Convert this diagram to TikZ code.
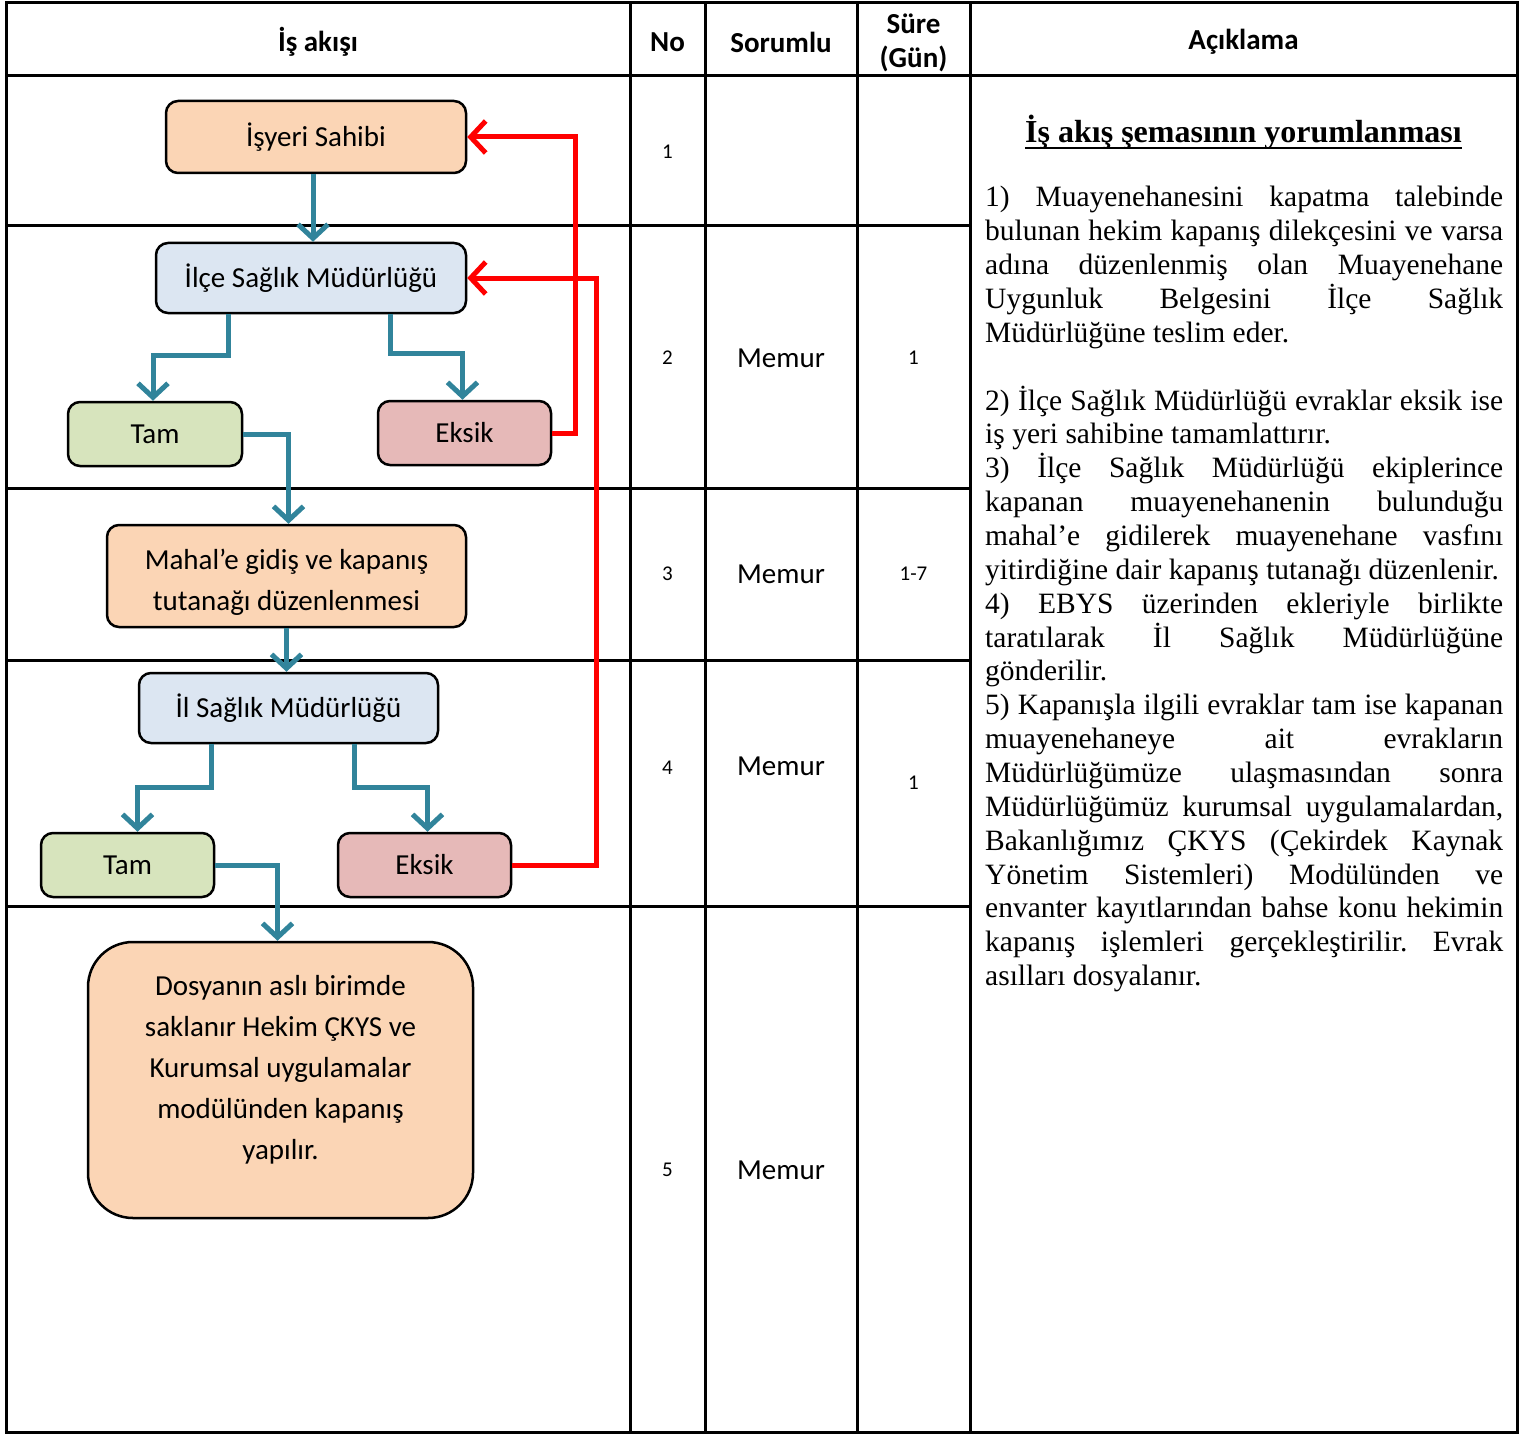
\documentclass[tikz,border=0pt]{standalone}
\usepackage{fontspec}
\setmainfont{Liberation Serif}
\newfontfamily\carl{Carlito}
\newfontfamily\tnr{Liberation Serif}
\usetikzlibrary{arrows.meta,calc}
\definecolor{cpeach}{HTML}{FBD5B5}
\definecolor{cblue}{HTML}{DCE6F2}
\definecolor{cgreen}{HTML}{D7E4BD}
\definecolor{cpink}{HTML}{E6B9B8}
\definecolor{cteal}{HTML}{31849B}
\frenchspacing
\newcommand\jline[3]{\node[jl] (#1) at (985,#2) {\makebox[518pt][s]{#3}};}
\newcommand\lline[3]{\node[jl] (#1) at (985,#2) {#3};}
\begin{document}
\begin{tikzpicture}[x=1pt,y=-1pt,
  tblline/.style={line width=3pt,line cap=rect},
  flowbox/.style={draw=black,line width=2.5pt,rounded corners=12pt,font=\carl\fontsize{29}{41}\selectfont,align=center,inner sep=0pt},
  flowtxt/.style={font=\carl\fontsize{29}{41}\selectfont,align=center,inner sep=0pt},
  tl/.style={draw=cteal,line width=5pt,-{Straight Barb[length=14pt,width=30pt]}},
  rl/.style={draw=red,line width=5pt,-{Straight Barb[length=15pt,width=32pt]}},
  hdr/.style={font=\carl\bfseries\fontsize{29}{34}\selectfont,align=center,inner sep=0pt},
  celltxt/.style={font=\carl\fontsize{29}{34}\selectfont,inner sep=0pt},
  numtxt/.style={font=\carl\fontsize{21}{25}\selectfont,inner sep=0pt},
  jl/.style={font=\tnr\fontsize{29.5}{34}\selectfont,inner sep=0pt,anchor=base west},
]
\useasboundingbox (0,0) rectangle (1526,1434);
% table
\draw[tblline] (6,3) rectangle (1517,1432);
\foreach \x in {630,705,857,970} \draw[tblline] (\x,3) -- (\x,1432);
\draw[tblline] (6,76) -- (1517,76);
\foreach \y in {226,488,660,906} \draw[tblline] (6,\y) -- (970,\y);
% header
\node[hdr] (h1) at (318,42) {İş akışı};
\node[hdr] (h2) at (667.5,42) {No};
\node[hdr] (h3) at (781,42) {Sorumlu};
\node[hdr] (h4) at (913.5,42.5) {Süre\\(Gün)};
\node[hdr] (h5) at (1243.5,42) {Açıklama};
% cells
\node[numtxt] (n1) at (667.5,152) {1};
\node[numtxt] (n2) at (667.5,358) {2};
\node[numtxt] (n3) at (667.5,574) {3};
\node[numtxt] (n4) at (667.5,768) {4};
\node[numtxt] (n5) at (667.5,1170) {5};
\node[celltxt] (m2) at (781,358) {Memur};
\node[celltxt] (m3) at (781,574) {Memur};
\node[celltxt] (m4) at (781,766) {Memur};
\node[celltxt] (m5) at (781,1170) {Memur};
\node[numtxt] (s2) at (913.5,358) {1};
\node[numtxt] (s3) at (913.5,574) {1-7};
\node[numtxt] (s4) at (913.5,783) {1};
% flow nodes
\node[flowbox,fill=cpeach,minimum width=300pt,minimum height=72pt] (isyeri) at (316,137) {\raisebox{3pt}{İşyeri Sahibi}};
\node[flowbox,fill=cblue,minimum width=310pt,minimum height=70pt] (ilce) at (311,278) {\raisebox{3pt}{İlçe Sağlık Müdürlüğü}};
\node[flowbox,fill=cgreen,minimum width=174pt,minimum height=64pt] (tam1) at (155,434) {Tam};
\node[flowbox,fill=cpink,minimum width=173pt,minimum height=64pt] (eksik1) at (464.5,433) {Eksik};
\node[flowbox,fill=cpeach,minimum width=359pt,minimum height=102pt] (mahal) at (286.5,576) {};
\node[flowtxt] (mahaltxt) at (286.5,582) {Mahal’e gidiş ve kapanış\\tutanağı düzenlenmesi};
\node[flowbox,fill=cblue,minimum width=299pt,minimum height=70pt] (il) at (288.5,708) {\raisebox{3pt}{İl Sağlık Müdürlüğü}};
\node[flowbox,fill=cgreen,minimum width=173pt,minimum height=64pt] (tam2) at (127.5,865) {Tam};
\node[flowbox,fill=cpink,minimum width=173pt,minimum height=64pt] (eksik2) at (424.5,865) {Eksik};
\node[flowbox,fill=cpeach,rounded corners=45pt,minimum width=385pt,minimum height=276pt] (dosya) at (280.5,1080) {};
\node[flowtxt] (dosyatxt) at (280.5,1070) {Dosyanın aslı birimde\\saklanır Hekim ÇKYS ve\\Kurumsal uygulamalar\\modülünden kapanış\\yapılır.};
% teal arrows
\draw[tl] ([xshift=-3pt]isyeri.south) -- ([xshift=-3pt]isyeri.south |- ilce.north);
\draw[tl] ([xshift=-83pt]ilce.south) -- ++(0,41) -| ([xshift=-2pt]tam1.north);
\draw[tl] ([xshift=79pt]ilce.south) -- ++(0,39) -| ([xshift=-2pt]eksik1.north);
\draw[tl] (tam1.east) -| ([xshift=2pt]mahal.north);
\draw[tl] (mahal.south) -- (mahal.south |- il.north);
\draw[tl] ([xshift=-77pt]il.south) -- ++(0,43) -| ([xshift=10pt]tam2.north);
\draw[tl] ([xshift=66pt]il.south) -- ++(0,43) -| ([xshift=3pt]eksik2.north);
\draw[tl] (tam2.east) -| ([xshift=-3pt]dosya.north);
% red arrows
\draw[rl] (eksik1.east) -- ++(23,0) |- (isyeri.east);
\draw[rl] (eksik2.east) -- ++(84,0) |- (ilce.east);
% description
\node[font=\tnr\bfseries\fontsize{32}{38}\selectfont,inner sep=0pt,anchor=base] (title) at (1243.5,143) {İş akış şemasının yorumlanması};
\draw[line width=2pt] ([yshift=-5pt]title.base west) -- ([yshift=-5pt]title.base east);
\jline{l1}{207}{1) Muayenehanesini kapatma talebinde}
\jline{l2}{240.85}{bulunan hekim kapanış dilekçesini ve varsa}
\jline{l3}{274.7}{adına düzenlenmiş olan Muayenehane}
\jline{l4}{308.55}{Uygunluk Belgesini İlçe Sağlık}
\lline{l5}{342.4}{Müdürlüğüne teslim eder.}
\jline{l7}{410.1}{2) İlçe Sağlık Müdürlüğü evraklar eksik ise}
\lline{l8}{443.95}{iş yeri sahibine tamamlattırır.}
\jline{l9}{477.8}{3) İlçe Sağlık Müdürlüğü ekiplerince}
\jline{l10}{511.65}{kapanan muayenehanenin bulunduğu}
\jline{l11}{545.5}{mahal’e gidilerek muayenehane vasfını}
\lline{l12}{579.35}{yitirdiğine dair kapanış tutanağı düzenlenir.}
\jline{l13}{613.2}{4) EBYS üzerinden ekleriyle birlikte}
\jline{l14}{647.05}{taratılarak İl Sağlık Müdürlüğüne}
\lline{l15}{680.9}{gönderilir.}
\jline{l16}{714.75}{5) Kapanışla ilgili evraklar tam ise kapanan}
\jline{l17}{748.6}{muayenehaneye ait evrakların}
\jline{l18}{782.45}{Müdürlüğümüze ulaşmasından sonra}
\jline{l19}{816.3}{Müdürlüğümüz kurumsal uygulamalardan,}
\jline{l20}{850.15}{Bakanlığımız ÇKYS (Çekirdek Kaynak}
\jline{l21}{884}{Yönetim Sistemleri) Modülünden ve}
\jline{l22}{917.85}{envanter kayıtlarından bahse konu hekimin}
\jline{l23}{951.7}{kapanış işlemleri gerçekleştirilir. Evrak}
\lline{l24}{985.55}{asılları dosyalanır.}
\end{tikzpicture}
\end{document}
